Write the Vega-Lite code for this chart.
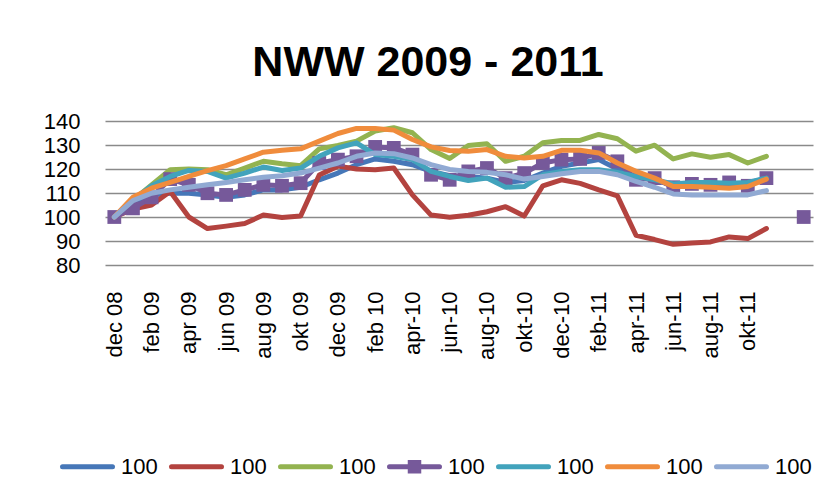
{
  "$schema": "https://vega.github.io/schema/vega-lite/v6.json",
  "width": 708,
  "height": 144,
  "autosize": {"type": "none"},
  "padding": {"left": 105, "top": 121, "right": 17, "bottom": 237},
  "background": "white",
  "config": {
    "view": {"stroke": null},
    "font": "Liberation Sans"
  },
  "title": {
    "text": "NWW 2009 - 2011",
    "font": "Liberation Sans",
    "fontSize": 43,
    "fontWeight": "bold",
    "color": "black",
    "anchor": "middle",
    "dx": -31,
    "offset": 25
  },
  "data": {
    "values": [
      {"m":"dec 08","s":"s1","v":100},{"m":"dec 08","s":"s2","v":100},{"m":"dec 08","s":"s3","v":100},{"m":"dec 08","s":"s4","v":100},{"m":"dec 08","s":"s5","v":100},{"m":"dec 08","s":"s6","v":100},{"m":"dec 08","s":"s7","v":100},
      {"m":"jan 09","s":"s1","v":105.7},{"m":"jan 09","s":"s2","v":103.3},{"m":"jan 09","s":"s3","v":107},{"m":"jan 09","s":"s4","v":103.6},{"m":"jan 09","s":"s5","v":107},{"m":"jan 09","s":"s6","v":108.2},{"m":"jan 09","s":"s7","v":106.8},
      {"m":"feb 09","s":"s1","v":109.2},{"m":"feb 09","s":"s2","v":105},{"m":"feb 09","s":"s3","v":113.4},{"m":"feb 09","s":"s4","v":108.2},{"m":"feb 09","s":"s5","v":113},{"m":"feb 09","s":"s6","v":112},{"m":"feb 09","s":"s7","v":109.9},
      {"m":"mrt 09","s":"s1","v":109.9},{"m":"mrt 09","s":"s2","v":110.6},{"m":"mrt 09","s":"s3","v":119.7},{"m":"mrt 09","s":"s4","v":115.8},{"m":"mrt 09","s":"s5","v":116.9},{"m":"mrt 09","s":"s6","v":114.4},{"m":"mrt 09","s":"s7","v":111.3},
      {"m":"apr 09","s":"s1","v":109.9},{"m":"apr 09","s":"s2","v":100},{"m":"apr 09","s":"s3","v":120},{"m":"apr 09","s":"s4","v":113.4},{"m":"apr 09","s":"s5","v":119.4},{"m":"apr 09","s":"s6","v":116.9},{"m":"apr 09","s":"s7","v":112.4},
      {"m":"mei 09","s":"s1","v":109.2},{"m":"mei 09","s":"s2","v":95.2},{"m":"mei 09","s":"s3","v":119.7},{"m":"mei 09","s":"s4","v":109.9},{"m":"mei 09","s":"s5","v":119},{"m":"mei 09","s":"s6","v":119.3},{"m":"mei 09","s":"s7","v":113.4},
      {"m":"jun 09","s":"s1","v":108.2},{"m":"jun 09","s":"s2","v":96.2},{"m":"jun 09","s":"s3","v":117.6},{"m":"jun 09","s":"s4","v":109.2},{"m":"jun 09","s":"s5","v":116.2},{"m":"jun 09","s":"s6","v":121.4},{"m":"jun 09","s":"s7","v":114.4},
      {"m":"jul 09","s":"s1","v":109.2},{"m":"jul 09","s":"s2","v":97.3},{"m":"jul 09","s":"s3","v":120.4},{"m":"jul 09","s":"s4","v":111.3},{"m":"jul 09","s":"s5","v":118.3},{"m":"jul 09","s":"s6","v":124.2},{"m":"jul 09","s":"s7","v":115.5},
      {"m":"aug 09","s":"s1","v":111.3},{"m":"aug 09","s":"s2","v":100.8},{"m":"aug 09","s":"s3","v":123.2},{"m":"aug 09","s":"s4","v":113.4},{"m":"aug 09","s":"s5","v":120.8},{"m":"aug 09","s":"s6","v":127},{"m":"aug 09","s":"s7","v":116.6},
      {"m":"sep 09","s":"s1","v":111.3},{"m":"sep 09","s":"s2","v":99.8},{"m":"sep 09","s":"s3","v":122.2},{"m":"sep 09","s":"s4","v":113},{"m":"sep 09","s":"s5","v":119.4},{"m":"sep 09","s":"s6","v":127.8},{"m":"sep 09","s":"s7","v":117.2},
      {"m":"okt 09","s":"s1","v":112.4},{"m":"okt 09","s":"s2","v":100.4},{"m":"okt 09","s":"s3","v":121.4},{"m":"okt 09","s":"s4","v":114.1},{"m":"okt 09","s":"s5","v":120.4},{"m":"okt 09","s":"s6","v":128.4},{"m":"okt 09","s":"s7","v":118.3},
      {"m":"nov 09","s":"s1","v":115.5},{"m":"nov 09","s":"s2","v":117.5},{"m":"nov 09","s":"s3","v":128.4},{"m":"nov 09","s":"s4","v":122.5},{"m":"nov 09","s":"s5","v":125.3},{"m":"nov 09","s":"s6","v":131.6},{"m":"nov 09","s":"s7","v":120.4},
      {"m":"dec 09","s":"s1","v":118.3},{"m":"dec 09","s":"s2","v":121.2},{"m":"dec 09","s":"s3","v":129.8},{"m":"dec 09","s":"s4","v":123.9},{"m":"dec 09","s":"s5","v":128.8},{"m":"dec 09","s":"s6","v":134.8},{"m":"dec 09","s":"s7","v":122.5},
      {"m":"jan 10","s":"s1","v":121.8},{"m":"jan 10","s":"s2","v":120},{"m":"jan 10","s":"s3","v":131.6},{"m":"jan 10","s":"s4","v":125.3},{"m":"jan 10","s":"s5","v":130.9},{"m":"jan 10","s":"s6","v":136.9},{"m":"jan 10","s":"s7","v":125.3},
      {"m":"feb 10","s":"s1","v":124.2},{"m":"feb 10","s":"s2","v":119.7},{"m":"feb 10","s":"s3","v":135.8},{"m":"feb 10","s":"s4","v":129.2},{"m":"feb 10","s":"s5","v":126},{"m":"feb 10","s":"s6","v":136.9},{"m":"feb 10","s":"s7","v":126.7},
      {"m":"mrt-10","s":"s1","v":123.2},{"m":"mrt-10","s":"s2","v":120.4},{"m":"mrt-10","s":"s3","v":137.2},{"m":"mrt-10","s":"s4","v":128.8},{"m":"mrt-10","s":"s5","v":125.3},{"m":"mrt-10","s":"s6","v":136.2},{"m":"mrt-10","s":"s7","v":126.4},
      {"m":"apr-10","s":"s1","v":121.8},{"m":"apr-10","s":"s2","v":109.2},{"m":"apr-10","s":"s3","v":135.1},{"m":"apr-10","s":"s4","v":126},{"m":"apr-10","s":"s5","v":123.9},{"m":"apr-10","s":"s6","v":132.3},{"m":"apr-10","s":"s7","v":124.6},
      {"m":"mei-10","s":"s1","v":119},{"m":"mei-10","s":"s2","v":100.8},{"m":"mei-10","s":"s3","v":128.1},{"m":"mei-10","s":"s4","v":117.6},{"m":"mei-10","s":"s5","v":119},{"m":"mei-10","s":"s6","v":129.2},{"m":"mei-10","s":"s7","v":121.8},
      {"m":"jun-10","s":"s1","v":117.2},{"m":"jun-10","s":"s2","v":99.9},{"m":"jun-10","s":"s3","v":124.4},{"m":"jun-10","s":"s4","v":115.5},{"m":"jun-10","s":"s5","v":116.9},{"m":"jun-10","s":"s6","v":127.7},{"m":"jun-10","s":"s7","v":119.8},
      {"m":"jul-10","s":"s1","v":116.9},{"m":"jul-10","s":"s2","v":100.7},{"m":"jul-10","s":"s3","v":129.8},{"m":"jul-10","s":"s4","v":119},{"m":"jul-10","s":"s5","v":115.2},{"m":"jul-10","s":"s6","v":127.4},{"m":"jul-10","s":"s7","v":119},
      {"m":"aug-10","s":"s1","v":116.2},{"m":"aug-10","s":"s2","v":102.2},{"m":"aug-10","s":"s3","v":130.5},{"m":"aug-10","s":"s4","v":120.4},{"m":"aug-10","s":"s5","v":116.2},{"m":"aug-10","s":"s6","v":128.1},{"m":"aug-10","s":"s7","v":118.6},
      {"m":"sep-10","s":"s1","v":114.4},{"m":"sep-10","s":"s2","v":104.3},{"m":"sep-10","s":"s3","v":123.2},{"m":"sep-10","s":"s4","v":116.2},{"m":"sep-10","s":"s5","v":112.4},{"m":"sep-10","s":"s6","v":125.3},{"m":"sep-10","s":"s7","v":117.6},
      {"m":"okt-10","s":"s1","v":115.2},{"m":"okt-10","s":"s2","v":100.4},{"m":"okt-10","s":"s3","v":125.3},{"m":"okt-10","s":"s4","v":118.3},{"m":"okt-10","s":"s5","v":112.7},{"m":"okt-10","s":"s6","v":124.6},{"m":"okt-10","s":"s7","v":115.8},
      {"m":"nov-10","s":"s1","v":118.3},{"m":"nov-10","s":"s2","v":113},{"m":"nov-10","s":"s3","v":130.9},{"m":"nov-10","s":"s4","v":122.5},{"m":"nov-10","s":"s5","v":117.6},{"m":"nov-10","s":"s6","v":125.3},{"m":"nov-10","s":"s7","v":116.9},
      {"m":"dec-10","s":"s1","v":121.1},{"m":"dec-10","s":"s2","v":115.5},{"m":"dec-10","s":"s3","v":131.9},{"m":"dec-10","s":"s4","v":123.9},{"m":"dec-10","s":"s5","v":119},{"m":"dec-10","s":"s6","v":127.8},{"m":"dec-10","s":"s7","v":118},
      {"m":"jan-11","s":"s1","v":122.5},{"m":"jan-11","s":"s2","v":114},{"m":"jan-11","s":"s3","v":131.9},{"m":"jan-11","s":"s4","v":124.2},{"m":"jan-11","s":"s5","v":119.7},{"m":"jan-11","s":"s6","v":127.8},{"m":"jan-11","s":"s7","v":119},
      {"m":"feb-11","s":"s1","v":123.9},{"m":"feb-11","s":"s2","v":111.3},{"m":"feb-11","s":"s3","v":134.4},{"m":"feb-11","s":"s4","v":126.7},{"m":"feb-11","s":"s5","v":119.7},{"m":"feb-11","s":"s6","v":126.7},{"m":"feb-11","s":"s7","v":119},
      {"m":"mrt-11","s":"s1","v":120},{"m":"mrt-11","s":"s2","v":108.8},{"m":"mrt-11","s":"s3","v":132.6},{"m":"mrt-11","s":"s4","v":123.2},{"m":"mrt-11","s":"s5","v":118.6},{"m":"mrt-11","s":"s6","v":122.5},{"m":"mrt-11","s":"s7","v":117.6},
      {"m":"apr-11","s":"s1","v":116.9},{"m":"apr-11","s":"s2","v":92.4},{"m":"apr-11","s":"s3","v":127.4},{"m":"apr-11","s":"s4","v":115.5},{"m":"apr-11","s":"s5","v":116.9},{"m":"apr-11","s":"s6","v":119},{"m":"apr-11","s":"s7","v":114.8},
      {"m":"mei-11","s":"s1","v":115.2},{"m":"mei-11","s":"s2","v":90.6},{"m":"mei-11","s":"s3","v":129.9},{"m":"mei-11","s":"s4","v":116.2},{"m":"mei-11","s":"s5","v":115.5},{"m":"mei-11","s":"s6","v":116.2},{"m":"mei-11","s":"s7","v":112.4},
      {"m":"jun-11","s":"s1","v":113.4},{"m":"jun-11","s":"s2","v":88.6},{"m":"jun-11","s":"s3","v":124.2},{"m":"jun-11","s":"s4","v":112.4},{"m":"jun-11","s":"s5","v":113.8},{"m":"jun-11","s":"s6","v":112.7},{"m":"jun-11","s":"s7","v":109.6},
      {"m":"jul-11","s":"s1","v":113.8},{"m":"jul-11","s":"s2","v":89.2},{"m":"jul-11","s":"s3","v":126.3},{"m":"jul-11","s":"s4","v":113.8},{"m":"jul-11","s":"s5","v":114.4},{"m":"jul-11","s":"s6","v":112.7},{"m":"jul-11","s":"s7","v":109.2},
      {"m":"aug-11","s":"s1","v":113.8},{"m":"aug-11","s":"s2","v":89.6},{"m":"aug-11","s":"s3","v":124.9},{"m":"aug-11","s":"s4","v":113.4},{"m":"aug-11","s":"s5","v":114.4},{"m":"aug-11","s":"s6","v":112.4},{"m":"aug-11","s":"s7","v":109.2},
      {"m":"sep-11","s":"s1","v":113.4},{"m":"sep-11","s":"s2","v":91.7},{"m":"sep-11","s":"s3","v":126},{"m":"sep-11","s":"s4","v":114.4},{"m":"sep-11","s":"s5","v":114.1},{"m":"sep-11","s":"s6","v":112},{"m":"sep-11","s":"s7","v":109.2},
      {"m":"okt-11","s":"s1","v":114.1},{"m":"okt-11","s":"s2","v":91},{"m":"okt-11","s":"s3","v":122.5},{"m":"okt-11","s":"s4","v":113},{"m":"okt-11","s":"s5","v":114.4},{"m":"okt-11","s":"s6","v":112.7},{"m":"okt-11","s":"s7","v":109.2},
      {"m":"nov-11","s":"s1","v":116.2},{"m":"nov-11","s":"s2","v":95.2},{"m":"nov-11","s":"s3","v":125.3},{"m":"nov-11","s":"s4","v":116.2},{"m":"nov-11","s":"s5","v":116.2},{"m":"nov-11","s":"s6","v":115.8},{"m":"nov-11","s":"s7","v":111},
      {"m":"jan-12","s":"s4","v":100}
    ]
  },
  "encoding": {
    "x": {
      "field": "m",
      "type": "ordinal",
      "scale": {
        "type": "point",
        "padding": 0.5,
        "domain": ["dec 08","jan 09","feb 09","mrt 09","apr 09","mei 09","jun 09","jul 09","aug 09","sep 09","okt 09","nov 09","dec 09","jan 10","feb 10","mrt-10","apr-10","mei-10","jun-10","jul-10","aug-10","sep-10","okt-10","nov-10","dec-10","jan-11","feb-11","mrt-11","apr-11","mei-11","jun-11","jul-11","aug-11","sep-11","okt-11","nov-11","dec-11","jan-12"]
      },
      "axis": {
        "title": null,
        "values": ["dec 08","feb 09","apr 09","jun 09","aug 09","okt 09","dec 09","feb 10","apr-10","jun-10","aug-10","okt-10","dec-10","feb-11","apr-11","jun-11","aug-11","okt-11"],
        "labelAngle": 270,
        "labelAlign": "right",
        "labelBaseline": "middle",
        "labelPadding": 26,
        "labelFont": "Liberation Sans",
        "labelFontSize": 22,
        "labelColor": "black",
        "labelOverlap": false,
        "domain": false,
        "ticks": false,
        "grid": false
      }
    },
    "y": {
      "field": "v",
      "type": "quantitative",
      "scale": {"domain": [80, 140], "nice": false, "zero": false},
      "axis": {
        "title": null,
        "values": [80, 90, 100, 110, 120, 130, 140],
        "labelPadding": 25,
        "labelFont": "Liberation Sans",
        "labelFontSize": 22,
        "labelColor": "black",
        "domain": false,
        "ticks": false,
        "grid": true,
        "gridColor": "#8a8a8a",
        "gridWidth": 1.5
      }
    }
  },
  "layer": [
    {
      "transform": [{"filter": "indexof(['s1','s2','s3','s4'], datum.s) >= 0 && datum.m !== 'jan-12'"}],
      "mark": {"type": "line", "strokeWidth": 5, "strokeCap": "round", "strokeJoin": "round"},
      "encoding": {
        "color": {
          "field": "s",
          "type": "nominal",
          "scale": {
            "domain": ["s1","s2","s3","s4","s5","s6","s7"],
            "range": ["#4677B8","#B3433F","#93B350","#76599A","#42A3BC","#F08C3C","#91AAD3"]
          },
          "legend": {
            "orient": "none",
            "legendX": -45,
            "legendY": 318,
            "direction": "horizontal",
            "title": null,
            "labelExpr": "'100'",
            "labelFont": "Liberation Sans",
            "labelFontSize": 22,
            "labelColor": "black",
            "labelOffset": 6,
            "symbolType": "stroke",
            "symbolSize": 2500,
            "symbolStrokeWidth": 5,
            "columnPadding": 3,
            "encode": {
              "symbols": {
                "update": {
                  "shape": {"signal": "datum.value === 's4' ? 'M-1,0H1M-0.17,-0.17H0.17V0.17H-0.17Z' : 'M-1,0H1M0,-0.17M0,0.17'"},
                  "fill": {"signal": "datum.value === 's4' ? '#76599A' : 'transparent'"},
                  "strokeCap": {"value": "round"}
                }
              }
            }
          }
        }
      }
    },
    {
      "transform": [{"filter": "datum.s === 's4'"}],
      "mark": {"type": "point", "shape": "square", "filled": true, "size": 190, "color": "#76599A", "opacity": 1},
      "encoding": {}
    },
    {
      "transform": [{"filter": "indexof(['s5','s6','s7'], datum.s) >= 0"}],
      "mark": {"type": "line", "strokeWidth": 5, "strokeCap": "round", "strokeJoin": "round"},
      "encoding": {
        "color": {
          "field": "s",
          "type": "nominal",
          "scale": {
            "domain": ["s1","s2","s3","s4","s5","s6","s7"],
            "range": ["#4677B8","#B3433F","#93B350","#76599A","#42A3BC","#F08C3C","#91AAD3"]
          },
          "legend": {
            "orient": "none",
            "legendX": -45,
            "legendY": 318,
            "direction": "horizontal",
            "title": null,
            "labelExpr": "'100'",
            "labelFont": "Liberation Sans",
            "labelFontSize": 22,
            "labelColor": "black",
            "labelOffset": 6,
            "symbolType": "stroke",
            "symbolSize": 2500,
            "symbolStrokeWidth": 5,
            "columnPadding": 3,
            "encode": {
              "symbols": {
                "update": {
                  "shape": {"signal": "datum.value === 's4' ? 'M-1,0H1M-0.17,-0.17H0.17V0.17H-0.17Z' : 'M-1,0H1M0,-0.17M0,0.17'"},
                  "fill": {"signal": "datum.value === 's4' ? '#76599A' : 'transparent'"},
                  "strokeCap": {"value": "round"}
                }
              }
            }
          }
        }
      }
    }
  ]
}
